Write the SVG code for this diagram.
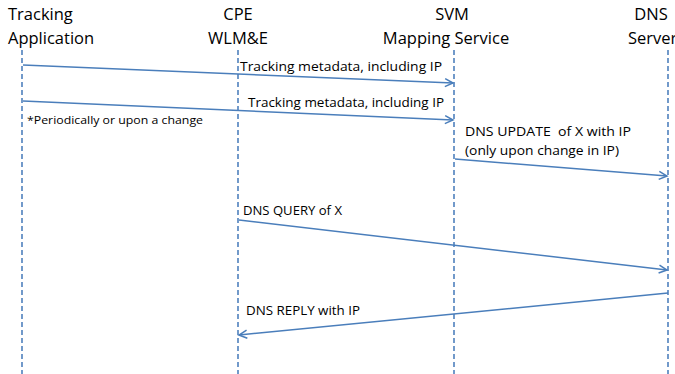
<svg xmlns="http://www.w3.org/2000/svg" width="675" height="374" viewBox="0 0 675 374">
<style>
.hdr{font-family:"Open Sans","Liberation Sans",sans-serif;font-size:16.5px;fill:#000}
.lbl{font-family:"Open Sans","Liberation Sans",sans-serif;font-size:13px;fill:#000}
.small{font-family:"Open Sans","Liberation Sans",sans-serif;font-size:11px;fill:#000}
.life{stroke:#4f81bd;stroke-width:1.6;stroke-dasharray:5 3;fill:none}
.msg{stroke:#4a7ebb;stroke-width:1.5;fill:none}
</style>
<defs>
<marker id="arr" markerWidth="12" markerHeight="12" refX="9" refY="5" orient="auto" markerUnits="userSpaceOnUse">
<path d="M1,1 L9,5 L1,9" fill="none" stroke="#4a7ebb" stroke-width="1.5"/>
</marker>
</defs>
<rect width="675" height="374" fill="#fff"/>
<g id="tracking">
<text class="hdr" x="8" y="20">Tracking</text>
<text class="hdr" x="8" y="44">Application</text>
<line class="life" x1="22" y1="50" x2="22" y2="374"/>
</g>
<g id="cpe">
<text class="hdr" x="238" y="20" text-anchor="middle">CPE</text>
<text class="hdr" x="238" y="44" text-anchor="middle">WLM&amp;E</text>
<line class="life" x1="238" y1="50" x2="238" y2="374"/>
</g>
<g id="svm">
<text class="hdr" x="452" y="20" text-anchor="middle">SVM</text>
<text class="hdr" x="446" y="44" text-anchor="middle">Mapping Service</text>
<line class="life" x1="454" y1="50" x2="454" y2="374"/>
</g>
<g id="dns">
<text class="hdr" x="651" y="20" text-anchor="middle">DNS</text>
<text class="hdr" x="628" y="44">Server</text>
<line class="life" x1="668" y1="50" x2="668" y2="374"/>
</g>
<g id="connectors">
<line class="msg" x1="23" y1="65" x2="453" y2="83" marker-end="url(#arr)"/>
<line class="msg" x1="23" y1="101" x2="453" y2="120" marker-end="url(#arr)"/>
<line class="msg" x1="455" y1="159" x2="667" y2="176" marker-end="url(#arr)"/>
<line class="msg" x1="239" y1="220" x2="667" y2="270" marker-end="url(#arr)"/>
<line class="msg" x1="668" y1="293" x2="239" y2="335" marker-end="url(#arr)"/>
</g>
<g id="labels">
<text class="lbl" x="240" y="71" textLength="202" lengthAdjust="spacingAndGlyphs">Tracking metadata, including IP</text>
<text class="lbl" x="248" y="107" textLength="196" lengthAdjust="spacingAndGlyphs">Tracking metadata, including IP</text>
<text class="small" x="27" y="124" textLength="176" lengthAdjust="spacingAndGlyphs">*Periodically or upon a change</text>
<text class="lbl" x="465" y="136" textLength="166" lengthAdjust="spacingAndGlyphs" style="white-space:pre">DNS UPDATE  of X with IP</text>
<text class="lbl" x="465" y="155" textLength="154" lengthAdjust="spacingAndGlyphs">(only upon change in IP)</text>
<text class="lbl" x="243" y="215" textLength="99" lengthAdjust="spacingAndGlyphs">DNS QUERY of X</text>
<text class="lbl" x="246" y="315" textLength="114" lengthAdjust="spacingAndGlyphs">DNS REPLY with IP</text>
</g>
</svg>
